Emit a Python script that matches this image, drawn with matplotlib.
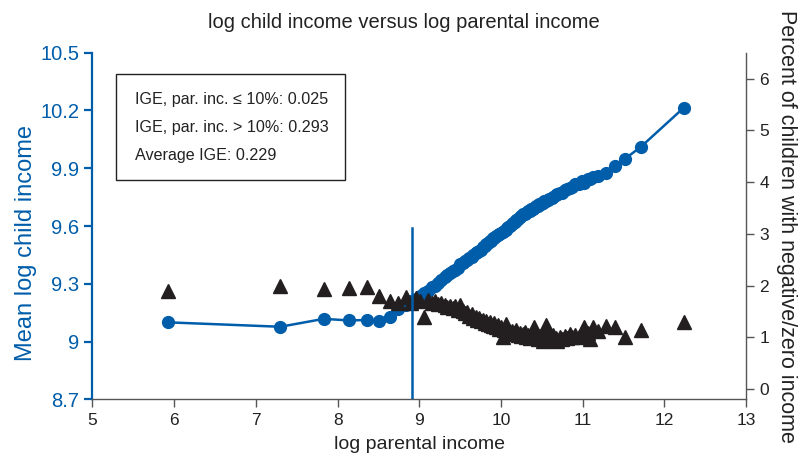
import matplotlib
matplotlib.use("Agg")
import matplotlib.pyplot as plt
from matplotlib.patches import Rectangle

plt.rcParams['font.family'] = ['Liberation Sans', 'DejaVu Sans']

# Percentile bins of parental income
log_parent_income = [
    5.92, 7.30, 7.83, 8.14, 8.36, 8.51, 8.64, 8.74, 8.84, 8.90,
    8.96, 9.01, 9.06, 9.11, 9.15, 9.19, 9.23, 9.27, 9.31, 9.34,
    9.38, 9.41, 9.44, 9.47, 9.50, 9.53, 9.56, 9.59, 9.61, 9.64,
    9.66, 9.69, 9.71, 9.73, 9.76, 9.78, 9.80, 9.82, 9.84, 9.86,
    9.88, 9.90, 9.92, 9.94, 9.96, 9.98, 10.00, 10.02, 10.04, 10.06,
    10.08, 10.09, 10.11, 10.13, 10.15, 10.17, 10.19, 10.21, 10.23, 10.25,
    10.27, 10.29, 10.31, 10.33, 10.35, 10.37, 10.39, 10.41, 10.43, 10.45,
    10.47, 10.49, 10.51, 10.53, 10.55, 10.57, 10.59, 10.62, 10.64, 10.67,
    10.69, 10.72, 10.75, 10.78, 10.81, 10.84, 10.87, 10.91, 10.95, 10.99,
    11.02, 11.06, 11.09, 11.13, 11.19, 11.29, 11.39, 11.52, 11.71, 12.24,
]

mean_log_child_income = [
    9.100, 9.077, 9.118, 9.110, 9.112, 9.108, 9.126, 9.170, 9.190, 9.210,
    9.220, 9.238, 9.250, 9.262, 9.283, 9.290, 9.302, 9.318, 9.334, 9.345,
    9.356, 9.368, 9.372, 9.384, 9.402, 9.408, 9.421, 9.424, 9.432, 9.440,
    9.452, 9.458, 9.466, 9.472, 9.478, 9.492, 9.498, 9.506, 9.510, 9.522,
    9.524, 9.536, 9.540, 9.546, 9.552, 9.556, 9.562, 9.568, 9.576, 9.580,
    9.592, 9.594, 9.602, 9.608, 9.616, 9.620, 9.632, 9.634, 9.646, 9.650,
    9.662, 9.664, 9.668, 9.676, 9.680, 9.686, 9.688, 9.696, 9.702, 9.704,
    9.712, 9.714, 9.720, 9.728, 9.730, 9.736, 9.742, 9.744, 9.752, 9.760,
    9.764, 9.772, 9.774, 9.786, 9.790, 9.800, 9.804, 9.816, 9.818, 9.832,
    9.824, 9.842, 9.846, 9.852, 9.862, 9.876, 9.912, 9.950, 10.010, 10.215,
]

pct_negative_zero = [
    1.90, 2.00, 1.93, 1.96, 1.98, 1.80, 1.71, 1.66, 1.77, 1.67,
    1.76, 1.70, 1.40, 1.72, 1.66, 1.70, 1.64, 1.67, 1.63, 1.58,
    1.61, 1.56, 1.60, 1.52, 1.62, 1.50, 1.46, 1.49, 1.42, 1.45,
    1.38, 1.40, 1.34, 1.37, 1.31, 1.33, 1.28, 1.32, 1.26, 1.30,
    1.24, 1.21, 1.27, 1.19, 1.23, 1.16, 1.20, 1.01, 1.14, 1.26,
    1.12, 1.15, 1.08, 1.12, 1.06, 1.10, 1.15, 1.04, 1.08, 1.02,
    1.06, 1.10, 1.00, 1.04, 0.98, 1.03, 1.07, 1.20, 1.00, 0.96,
    1.02, 0.98, 0.92, 1.04, 1.23, 0.97, 1.01, 0.95, 1.04, 0.99,
    0.92, 1.00, 0.97, 1.03, 0.98, 1.07, 1.01, 1.04, 1.00, 1.10,
    1.19, 1.08, 0.96, 1.19, 1.13, 1.22, 1.20, 1.01, 1.14, 1.29,
]

cutoff_log_income = 8.914
cutoff_line_top = 3.11  # in percent-axis units

box_lines = [
    "IGE, par. inc. \u2264 10%: 0.025",
    "IGE, par. inc. > 10%: 0.293",
    "Average IGE: 0.229",
]

left_ticks = [8.7, 9.0, 9.3, 9.6, 9.9, 10.2, 10.5]
left_ticklabels = ["8.7", "9", "9.3", "9.6", "9.9", "10.2", "10.5"]
right_ticks = [0, 1, 2, 3, 4, 5, 6]
x_ticks = [5, 6, 7, 8, 9, 10, 11, 12, 13]

BLUE = "#005DAA"
DARK = "#231F20"
GRAY = "#555555"
TEXT = "#222222"

fig = plt.figure(figsize=(8.09, 4.58), dpi=100)
ax = fig.add_axes([0.1143, 0.128, 0.8079, 0.757])
ax2 = ax.twinx()

ax.plot(log_parent_income, mean_log_child_income, color=BLUE, lw=1.8,
        marker="o", ms=8.5, mec=BLUE, mfc=BLUE, zorder=3)
ax2.plot(log_parent_income, pct_negative_zero, linestyle="none",
         marker="^", ms=9.5, color=DARK, mec=DARK, zorder=3)
ax2.plot([cutoff_log_income, cutoff_log_income], [-0.2, cutoff_line_top],
         color=BLUE, lw=1.8, zorder=4)

ax.set_xlim(5, 13)
ax.set_ylim(8.7, 10.5)
ax2.set_ylim(-0.2, 6.5)

ax.set_xticks(x_ticks)
ax.set_xticklabels([str(t) for t in x_ticks])
ax.set_yticks(left_ticks)
ax.set_yticklabels(left_ticklabels)
ax2.set_yticks(right_ticks)

for a in (ax, ax2):
    a.spines['top'].set_visible(False)
ax2.spines['left'].set_visible(False)
ax2.spines['bottom'].set_visible(False)
ax.spines['right'].set_visible(False)
ax.spines['left'].set_color(BLUE)
ax.spines['left'].set_linewidth(1.6)
ax.spines['bottom'].set_color(GRAY)
ax.spines['bottom'].set_linewidth(1.0)
ax2.spines['right'].set_color(GRAY)
ax2.spines['right'].set_linewidth(1.0)

ax.tick_params(axis='y', colors=BLUE, labelsize=14.5, length=6, width=1.6,
               direction='out')
ax.tick_params(axis='x', colors=GRAY, labelcolor=TEXT, labelsize=12.5,
               length=6, width=1.0)
ax2.tick_params(axis='y', colors=GRAY, labelcolor=TEXT, labelsize=12.5,
                length=6, width=1.0)

ax.set_xlabel("log parental income", fontsize=14, color=TEXT, labelpad=6)
ax.set_ylabel("Mean log child income", fontsize=17, color=BLUE)
ax.yaxis.set_label_coords(-0.085, 0.45)
ax2.set_ylabel("Percent of children with negative/zero income", fontsize=15.5,
               color=TEXT, rotation=270, labelpad=20)
ax.set_title("log child income versus log parental income", fontsize=14.5,
             color=TEXT, pad=18, x=0.477)

ax.add_patch(Rectangle((0.036, 0.633), 0.351, 0.305, transform=ax.transAxes,
                       fill=True, facecolor="white", edgecolor=TEXT,
                       lw=1.0, zorder=5))
for txt, yy in zip(box_lines, [0.866, 0.784, 0.702]):
    ax.text(0.065, yy, txt, transform=ax.transAxes, fontsize=11.6,
            color=TEXT, va="center", ha="left", zorder=6)

fig.savefig("out.png", dpi=100)
